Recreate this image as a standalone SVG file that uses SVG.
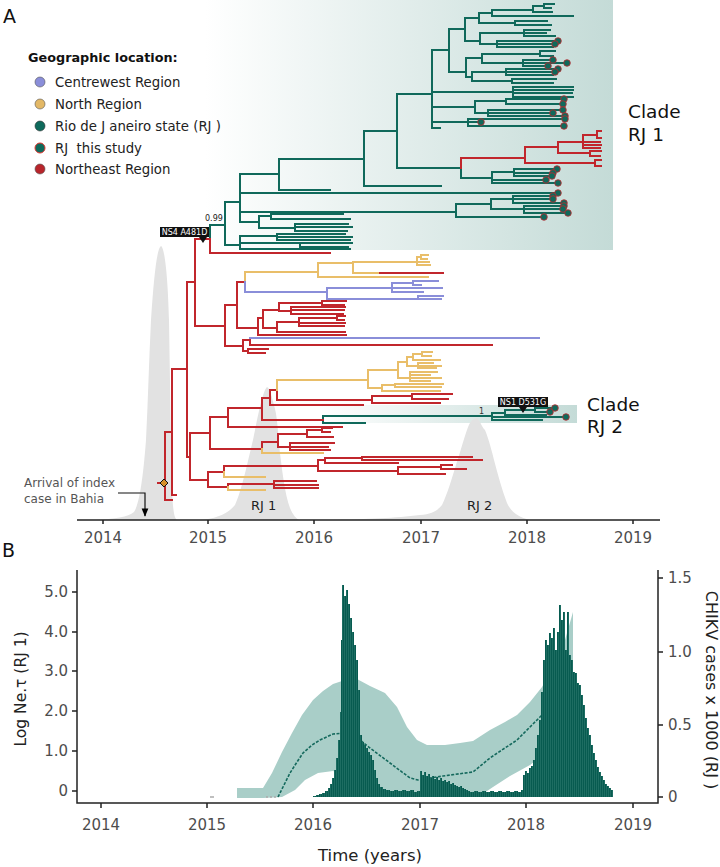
<svg xmlns="http://www.w3.org/2000/svg" width="720" height="867" viewBox="0 0 720 867">
<defs>
<linearGradient id="gRJ" x1="0" y1="0" x2="1" y2="0"><stop offset="0" stop-color="#ffffff"/><stop offset="1" stop-color="#c4dbd7"/></linearGradient>
<pattern id="bp" x="313" width="2" height="4" patternUnits="userSpaceOnUse"><rect width="2" height="4" fill="#3d897e"/><rect width="1.6" height="4" fill="#075b50"/></pattern>
<marker id="arr" viewBox="0 0 10 10" refX="9" refY="5" markerWidth="7" markerHeight="7" orient="auto"><path d="M0,1 L10,5 L0,9 Z" fill="#000"/></marker>
</defs>
<style>
text{font-family:"DejaVu Sans","Liberation Sans",sans-serif}
.lg{font-size:13.3px;fill:#222}
.tk{font-size:15px;fill:#4d4d4d}
.br{fill:none;stroke-width:2;stroke-linecap:square}
.t{stroke:#10695b}.r{stroke:#c1262c}.y{stroke:#e9be69}.b{stroke:#8a8ed9}
.pk{fill:#e2e2e2}
.dot{fill:#10695b;stroke:#c1262c;stroke-width:0.8}
.cl{font-size:18.5px;fill:#111}
.mut{font-size:8px;fill:#fff}
.ax{stroke:#222;stroke-width:1.5;fill:none}
</style>
<rect width="720" height="867" fill="#fff"/>
<text x="3" y="23" font-size="19" fill="#111">A</text>
<text x="2" y="557" font-size="19" fill="#111">B</text>
<g id="clade-shading">
<rect x="205" y="0" width="408" height="250" fill="url(#gRJ)"/>
<rect x="320" y="405" width="257" height="18" fill="url(#gRJ)"/>
</g>
<g id="legend">
<text x="28" y="62" font-size="12.8" font-weight="bold" fill="#111">Geographic location:</text>
<circle cx="40" cy="82" r="5" fill="#8a8ed9" stroke="#555" stroke-width="0.6"/><text class="lg" x="55" y="87">Centrewest Region</text>
<circle cx="40" cy="104" r="5" fill="#e3b866" stroke="#555" stroke-width="0.6"/><text class="lg" x="55" y="109">North Region</text>
<circle cx="40" cy="126" r="5" fill="#0e6a5c" stroke="#333" stroke-width="0.6"/><text class="lg" x="55" y="131">Rio de J aneiro state (RJ )</text>
<circle cx="40" cy="148" r="5" fill="#0e6a5c" stroke="#e0352f" stroke-width="1"/><text class="lg" x="55" y="153" xml:space="preserve">RJ  this study</text>
<circle cx="40" cy="169" r="5" fill="#b8252b" stroke="#555" stroke-width="0.6"/><text class="lg" x="55" y="174">Northeast Region</text>
</g>
<g id="density-peaks">
<path class="pk" d="M95,520 C115,519 128,517 134,512 C139,505 143,480 146,440 C148,400 149,360 151,320 C154,275 157,248 161,246 C165,248 168,280 169,320 C170,380 171,450 172,490 C173,510 174,518 177,520 Z"/>
<path class="pk" d="M200,520 C215,519 228,514 235,505 C242,490 248,460 253,440 C258,415 263,390 267,387 C270,388 272,398 274,405 C277,415 278,430 279,445 C282,470 285,495 290,508 C293,515 296,519 300,520 Z"/>
<path class="pk" d="M330,520 C370,519 395,518 420,515 C432,514 437,511 442,505 C447,495 452,478 456,465 C462,448 467,425 472,420 L477,418 C480,420 481,426 485,430 C489,440 492,452 494,460 C498,475 502,490 507,503 C511,512 518,517 530,520 Z"/>
<text x="251" y="510" font-size="13" fill="#222">RJ 1</text>
<text x="467" y="510" font-size="13" fill="#222">RJ 2</text>
</g>
<g id="tree-branches">
<path class="br t" d="M210,225 V239 M210,225 H225 M225,202 V245 M225,202 H240 M225,245 H240
M240,174 V222 M240,174 H279 M240,193 H558 M240,212 H456 M240,222 H259
M240,236 V249 M240,236 H277 M240,243 H352 M240,249 H350
M277,234 V240 M277,234 H345 M277,237 H352 M277,240 H350 M300,243 V247 M300,247 H348
M259,216 V228 M259,216 H271 M271,214 V219 M271,214 H343 M271,219 H350 M259,228 H295 M295,224 V231 M295,224 H348 M295,227 H352 M295,231 H347
M456,204 V217 M456,204 H491 M456,217 H544
M491,199 V209 M491,199 H513 M513,196 V203 M513,196 H553 M513,199 H553 M513,203 H564 M491,209 H524 M524,206 V213 M524,206 H564 M524,209 H563 M524,213 H568
M279,159 V190 M279,159 H364 M279,190 H330
M364,131 V186 M364,131 H397 M364,186 H441
M397,94 V168 M397,94 H432 M397,168 H461
M461,168 V178 M461,178 H492
M492,172 V183 M492,172 H514 M514,169 V176 M514,169 H557 M514,173 H553 M514,176 H552 M492,180 H546 M492,183 H558
M432,50 V128 M432,50 H449 M432,92 H513 M432,107 H475 M432,122 H481 M432,128 H440
M449,29 V72 M449,29 H465 M449,72 H466
M465,18 V41 M465,18 H479 M465,41 H480
M479,13 V23 M479,13 H492 M479,23 H515
M492,10 V16 M492,10 H533 M492,16 H573
M533,6 V12 M533,6 H544 M544,4 V8 M544,4 H554 M544,8 H551 M533,12 H552
M515,21 V25 M515,21 H547 M515,25 H551
M480,33 V44 M480,33 H524 M480,44 H497
M524,30 V36 M524,30 H550 M524,33 H546 M524,36 H555
M497,41 V47 M497,41 H558 M497,44 H555 M497,47 H553
M466,58 V77 M466,58 H482 M466,77 H472
M482,54 V63 M482,54 H540 M540,51 V56 M540,51 H555 M540,56 H553 M482,63 H523 M523,60 V66 M523,60 H553 M523,63 H567 M523,66 H548
M472,72 V81 M472,72 H506 M506,69 V75 M506,69 H558 M506,72 H555 M506,75 H553 M472,81 H512 M512,79 V83 M512,79 H556 M512,83 H553
M513,87 V97 M513,87 H573 M513,90 H573 M513,93 H572 M513,97 H573
M475,101 V113 M475,101 H506 M506,99 V104 M506,99 H564 M506,104 H563 M475,113 H488 M488,110 V116 M488,110 H563 M488,113 H553 M488,116 H565
M468,119 V126 M468,119 H565 M468,126 H564
M323,416 V423 M323,416 H492 M323,423 H365 M492,413 V420 M492,413 H505 M505,410 V415 M505,410 H535 M535,408 V412 M535,408 H555 M535,412 H550 M505,415 H546 M492,417 H566 M492,420 H542"/>
<path class="br r" d="M195,239 H210 M210,239 V253 H330
M461,158 V168 M461,158 H525
M525,147 V163 M525,147 H558 M525,163 H595
M558,142 V153 M558,142 H583 M558,153 H590
M583,135 V148 M583,135 H597 M597,131 V138 M597,131 H601 M597,138 H601 M583,142 H600 M583,145 H601 M583,148 H600
M590,151 V156 M590,151 H601 M590,156 H600
M595,160 V166 M595,160 H601 M595,166 H601
M158,483 H165 M165,432 V500 M165,432 H172 M165,500 H172
M172,369 V495 M172,369 H187 M172,495 H176
M187,282 V457 M187,282 H195 M187,457 H190
M190,433 V480 M190,433 H210 M190,480 H208
M195,239 V326 M195,326 H225
M225,305 V346 M225,305 H237 M225,346 H243
M237,282 V328 M237,282 H245 M237,328 H258
M378,273 H443
M258,318 V335 M258,318 H263 M258,335 H346
M263,310 V328 M263,310 H279 M263,328 H277
M279,303 V311 M279,303 H322 M322,301 V305 M322,301 H346 M322,305 H344 M279,311 H291 M291,307 V314 M291,307 H345 M291,310 H344 M291,314 H343
M277,322 V332 M277,322 H299 M299,318 V326 M299,318 H337 M337,316 V320 M337,316 H345 M337,320 H344 M299,323 H345 M299,326 H344 M277,332 H345
M243,340 V351 M243,340 H250 M250,338 V345 M250,345 H492 M243,351 H248 M248,349 V353 M248,349 H268 M248,353 H265
M210,417 V449 M210,417 H228 M210,449 H262
M228,408 V427 M228,408 H262 M228,427 H342
M262,398 V420 M262,398 H270 M262,420 H323
M270,390 V405 M270,390 H277 M270,405 H363
M277,390 V400 M277,400 H372
M372,396 V403 M372,396 H412 M412,394 V399 M412,394 H452 M412,399 H448 M372,403 H440
M262,442 V449 M262,442 H278 M278,434 V447 M278,434 H307 M307,430 V437 M307,430 H322 M322,428 V432 M322,428 H332 M322,432 H330 M307,437 H333 M278,447 H290 M290,443 V450 M290,443 H334 M290,447 H328 M290,450 H330
M208,472 V487 M208,472 H224 M208,487 H228
M224,466 V472 M224,466 H318
M318,460 V471 M318,460 H325 M325,458 V463 M325,458 H362 M362,457 V460 M362,457 H472 M362,460 H482 M325,463 H398 M318,471 H398 M398,467 V474 M398,467 H441 M441,465 V469 M441,465 H452 M441,469 H466 M398,474 H445
M228,484 V487 M228,484 H274 M274,481 V488 M274,481 H316 M274,485 H318 M274,488 H318"/>
<path class="br y" d="M245,272 V282 M245,272 H318 M318,263 V277 M318,263 H353 M318,277 H428
M353,262 V273 M353,262 H417 M353,273 H378
M417,257 V265 M417,257 H421 M421,255 V259 M421,255 H428 M421,259 H427 M417,262 H429 M417,265 H430
M277,380 V390 M277,380 H368
M368,370 V388 M368,370 H398 M368,388 H382
M398,362 V378 M398,362 H407 M407,357 V366 M407,357 H413 M413,354 V360 M413,354 H422 M422,352 V356 M422,352 H432 M422,356 H431 M413,360 H440 M407,366 H418 M418,363 V368 M418,363 H433 M418,366 H441 M418,368 H436
M398,378 H410 M410,372 V381 M410,372 H437 M410,375 H430 M410,378 H441 M410,381 H430
M382,385 V391 M382,385 H395 M395,384 V387 M395,384 H443 M395,387 H441 M382,391 H440
M224,472 V477 M224,477 H265 M228,487 V490 M228,490 H265 M262,449 V453 M262,453 H323"/>
<path class="br b" d="M245,282 V292 M245,292 H327 M327,288 V299 M327,288 H392 M327,299 H418
M392,283 V292 M392,283 H413 M413,281 V285 M413,281 H438 M413,285 H421 M392,288 H442 M392,292 H423
M418,296 V299 M418,296 H443 M418,299 H441 M250,338 H539"/>
</g>
<g id="tip-dots">
<circle class="dot" cx="558" cy="41" r="3.3"/><circle class="dot" cx="555" cy="44" r="3.3"/>
<circle class="dot" cx="553" cy="60" r="3.3"/><circle class="dot" cx="567" cy="63" r="3.3"/><circle class="dot" cx="548" cy="66" r="3.3"/>
<circle class="dot" cx="558" cy="69" r="3.3"/><circle class="dot" cx="555" cy="72" r="3.3"/>
<circle class="dot" cx="564" cy="99" r="3.3"/><circle class="dot" cx="563" cy="104" r="3.3"/><circle class="dot" cx="563" cy="110" r="3.3"/><circle class="dot" cx="553" cy="113" r="3.3"/><circle class="dot" cx="565" cy="116" r="3.3"/>
<circle class="dot" cx="565" cy="119" r="3.3"/><circle class="dot" cx="481" cy="122" r="3.3"/><circle class="dot" cx="564" cy="126" r="3.3"/>
<circle class="dot" cx="557" cy="169" r="3.3"/><circle class="dot" cx="553" cy="173" r="3.3"/><circle class="dot" cx="552" cy="176" r="3.3"/><circle class="dot" cx="546" cy="180" r="3.3"/><circle class="dot" cx="558" cy="183" r="3.3"/>
<circle class="dot" cx="558" cy="193" r="3.3"/><circle class="dot" cx="553" cy="196" r="3.3"/><circle class="dot" cx="553" cy="199" r="3.3"/><circle class="dot" cx="564" cy="203" r="3.3"/><circle class="dot" cx="564" cy="206" r="3.3"/><circle class="dot" cx="563" cy="209" r="3.3"/><circle class="dot" cx="568" cy="213" r="3.3"/><circle class="dot" cx="544" cy="217" r="3.3"/>
<circle class="dot" cx="555" cy="408" r="3.3"/><circle class="dot" cx="550" cy="412" r="3.3"/><circle class="dot" cx="566" cy="417" r="3.3"/>
</g>
<g id="index-node"><polygon points="164,479 168,483 164,487 160,483" fill="#d4912a" stroke="#111" stroke-width="1"/></g>
<g id="mutation-NS4">
<rect x="160" y="227" width="49" height="10" fill="#111"/>
<text class="mut" x="184.5" y="235" text-anchor="middle">NS4 A481D</text>
<path d="M199,237 H207 L203,243 Z" fill="#111"/>
<text x="205" y="221" font-size="8" fill="#222">0.99</text>
</g>
<g id="mutation-NS1">
<rect x="498" y="397" width="50" height="10" fill="#111"/>
<text class="mut" x="523" y="405" text-anchor="middle">NS1 D531G</text>
<path d="M519,407 H527 L523,413 Z" fill="#111"/>
<text x="479" y="414" font-size="8" fill="#333">1</text>
</g>
<g id="clade-labels">
<text class="cl" x="628" y="118">Clade</text><text class="cl" x="628" y="141">RJ 1</text>
<text class="cl" x="587" y="411">Clade</text><text class="cl" x="587" y="433">RJ 2</text>
</g>
<g id="index-arrival">
<text x="24" y="487" font-size="12" fill="#555">Arrival of index</text>
<text x="24" y="503" font-size="12" fill="#555">case in Bahia</text>
<path d="M118,493 H145 V516" fill="none" stroke="#111" stroke-width="1.2" marker-end="url(#arr)"/>
</g>
<g id="axis-A">
<path class="ax" d="M77,520 H660 M103,520 V524 M208,520 V524 M314,520 V524 M421,520 V524 M527,520 V524 M633,520 V524"/>
<g class="tk" text-anchor="middle"><text x="103" y="543">2014</text><text x="208" y="543">2015</text><text x="314" y="543">2016</text><text x="421" y="543">2017</text><text x="527" y="543">2018</text><text x="633" y="543">2019</text></g>
</g>
<g id="panel-B">
<polygon fill="#a9cec8" points="237,788 263,788 272,773 282,752 292,733 302,715 313,700 323,691 333,684 345,680 357,679 370,686 385,693 397,707 407,727 417,740 427,745 445,745 460,743 473,741 490,730 505,722 517,715 530,702 542,687 557,660 565,640 573,612 573,700 560,726 547,752 530,765 510,776 493,787 478,797 365,797 358,788 347,776 333,771 318,773 305,780 295,790 282,797 263,798 237,798"/>
<path d="M210,797 H214" stroke="#aaa" stroke-width="1.5"/>
<path d="M266,797 H278" stroke="#aaa" stroke-width="1.5" stroke-dasharray="2,2"/>
<polyline fill="none" stroke="#15695d" stroke-width="1.6" stroke-dasharray="3,1.5" points="278,797 284,785 290,773 297,762 303,753 312,745 320,740 333,734 347,733 355,735 360,740 370,748 390,763 410,778 418,780 430,778 443,776 473,772 490,758 517,740 540,717 553,705 573,703"/>
<path fill="url(#bp)" d="M313,797 V796 H316 V795 H319 V794 H322 V793 H325 V791 H328 V788 H330 V784 H332 V778 H334 V770 H336 V758 H338 V740 H340 V712 H341 V640 H342 V585 H344 V596 H346 V590 H348 V604 H350 V618 H352 V632 H354 V645 H356 V660 H358 V690 H360 V735 H362 V742 H364 V745 H366 V748 H368 V752 H370 V755 H372 V760 H374 V770 H376 V778 H378 V784 H380 V787 H383 V789 H386 V790 H390 V791 H394 V790 H398 V791 H402 V790 H406 V791 H410 V790 H414 V792 H417 V791 H420 V771 H422 V775 H424 V772 H426 V776 H428 V774 H430 V778 H432 V776 H434 V779 H436 V777 H438 V780 H440 V778 H442 V781 H444 V780 H446 V782 H448 V781 H450 V784 H452 V783 H454 V785 H456 V786 H458 V787 H460 V786 H462 V788 H464 V789 H466 V790 H468 V791 H470 V792 H474 V791 H478 V792 H482 V791 H486 V792 H490 V791 H494 V792 H498 V791 H502 V792 H506 V791 H510 V792 H514 V791 H518 V792 H521 V790 H523 V775 H525 V771 H527 V773 H529 V768 H531 V766 H533 V760 H535 V748 H537 V735 H539 V720 H541 V692 H543 V660 H545 V640 H547 V645 H549 V633 H551 V638 H553 V628 H555 V650 H557 V632 H559 V605 H561 V620 H563 V612 H565 V650 H567 V612 H569 V655 H571 V660 H573 V672 H575 V673 H577 V683 H579 V685 H581 V695 H583 V705 H585 V718 H587 V728 H589 V735 H591 V745 H593 V753 H595 V760 H597 V767 H599 V772 H601 V776 H603 V780 H605 V784 H607 V786 H609 V788 H611 V790 H613 V797 Z"/>
<path class="ax" d="M77,570 V803 H658 V570"/>
<path class="ax" d="M72,592 H77 M72,632 H77 M72,671 H77 M72,711 H77 M72,751 H77 M72,791 H77 M658,578 H663 M658,652 H663 M658,725 H663 M658,797 H663 M101,803 V808 M207,803 V808 M313,803 V808 M420,803 V808 M526,803 V808 M633,803 V808"/>
<g class="tk" text-anchor="end"><text x="68" y="597">5.0</text><text x="68" y="637">4.0</text><text x="68" y="676">3.0</text><text x="68" y="716">2.0</text><text x="68" y="756">1.0</text><text x="68" y="796">0</text></g>
<g class="tk"><text x="668" y="583">1.5</text><text x="668" y="657">1.0</text><text x="668" y="730">0.5</text><text x="668" y="802">0</text></g>
<g class="tk" text-anchor="middle"><text x="101" y="830">2014</text><text x="207" y="830">2015</text><text x="313" y="830">2016</text><text x="420" y="830">2017</text><text x="526" y="830">2018</text><text x="633" y="830">2019</text></g>
<text transform="translate(26,689) rotate(-90)" text-anchor="middle" font-size="15.5" fill="#222">Log Ne.τ (RJ 1)</text>
<text transform="translate(706,690) rotate(90)" text-anchor="middle" font-size="16" fill="#222">CHIKV cases x 1000 (RJ )</text>
<text x="370" y="861" text-anchor="middle" font-size="16.5" fill="#222">Time (years)</text>
</g>
</svg>
